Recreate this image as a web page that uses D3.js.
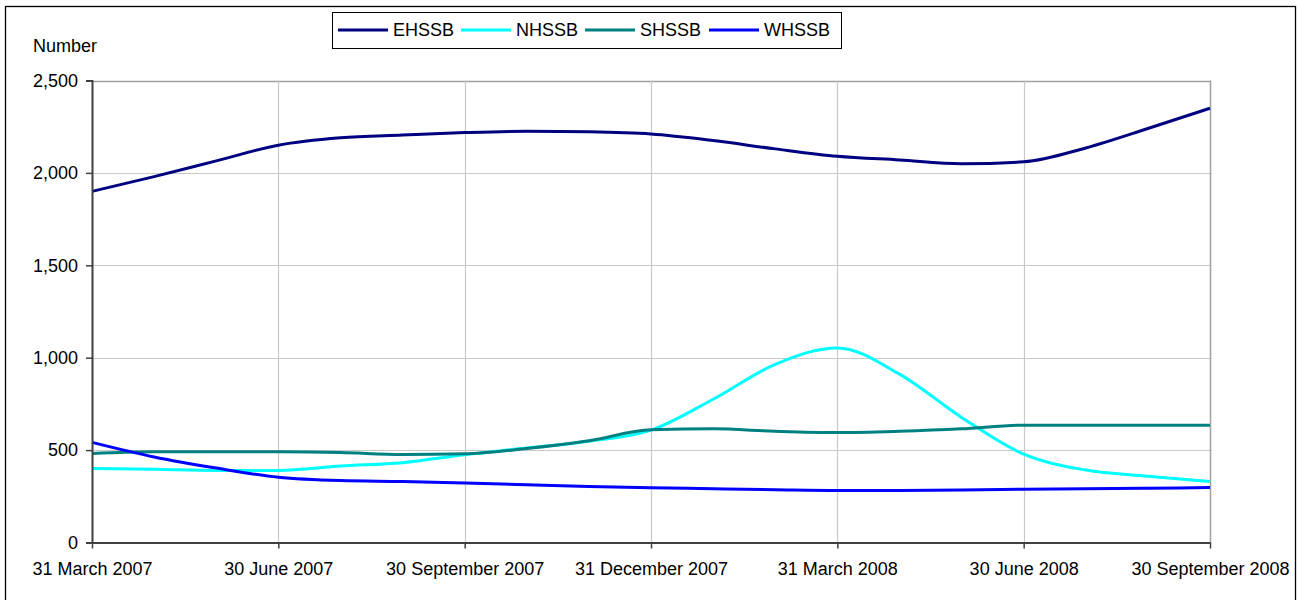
<!DOCTYPE html>
<html>
<head>
<meta charset="utf-8">
<script src="https://cdn.jsdelivr.net/npm/d3@7"></script>
<style>
  html, body { margin: 0; padding: 0; background: #fff; }
  svg { display: block; font-family: "Liberation Sans", Arial, sans-serif; }
</style>
</head>
<body>
<svg id="chart" width="1299" height="600"></svg>
<script>
// ---- data ----
const months = [
  "31 March 2007", "30 April 2007", "31 May 2007", "30 June 2007", "31 July 2007",
  "31 August 2007", "30 September 2007", "31 October 2007", "30 November 2007",
  "31 December 2007", "31 January 2008", "29 February 2008", "31 March 2008",
  "30 April 2008", "31 May 2008", "30 June 2008", "31 July 2008", "31 August 2008",
  "30 September 2008"
];
const tickLabels = [
  "31 March 2007", "30 June 2007", "30 September 2007", "31 December 2007",
  "31 March 2008", "30 June 2008", "30 September 2008"
];
const yTicks = [0, 500, 1000, 1500, 2000, 2500];
const seriesNames = ["EHSSB", "NHSSB", "SHSSB", "WHSSB"];
const seriesColors = ["#000080", "#00FFFF", "#008080", "#0000FF"];
const EHSSB = [1900, 1980, 2065, 2150, 2190, 2205, 2218, 2225, 2222, 2210, 2175, 2130, 2090, 2070, 2050, 2060, 2135, 2240, 2350];
const NHSSB = [401, 396, 390, 390, 414, 432, 475, 511, 548, 608, 775, 964, 1053, 911, 677, 478, 392, 359, 330];
const SHSSB = [482, 491, 491, 491, 487, 476, 480, 509, 551, 610, 615, 602, 595, 602, 615, 635, 635, 635, 635];
const WHSSB = [542, 463, 403, 353, 335, 330, 322, 312, 303, 296, 291, 286, 282, 282, 284, 288, 291, 294, 297];
const seriesValues = [EHSSB, NHSSB, SHSSB, WHSSB];

// ---- layout ----
const svg = d3.select("#chart");
const plotLeft = 92, plotRight = 1210, plotTop = 80.5, plotBottom = 542.5;
const FONT = 18;

const x = d3.scalePoint().domain(months).range([plotLeft, plotRight]);
const y = d3.scaleLinear().domain([0, 2500]).range([plotBottom, plotTop]);

// outer border
svg.append("rect")
  .attr("x", 5.5).attr("y", 6.5).attr("width", 1290).attr("height", 600)
  .attr("fill", "#fff").attr("stroke", "#000").attr("stroke-width", 1.3);

// horizontal gridlines
svg.append("g").selectAll("line")
  .data(yTicks.filter(d => d > 0))
  .join("line")
  .attr("x1", plotLeft).attr("x2", plotRight)
  .attr("y1", d => Math.round(y(d)) + 0.5).attr("y2", d => Math.round(y(d)) + 0.5)
  .attr("stroke", d => d === 2500 ? "#a0a0a0" : "#c8c8c8").attr("stroke-width", d => d === 2500 ? 1.5 : 1.2);

// vertical gridlines
svg.append("g").selectAll("line")
  .data(tickLabels.slice(1))
  .join("line")
  .attr("x1", d => Math.round(x(d)) + 0.5).attr("x2", d => Math.round(x(d)) + 0.5)
  .attr("y1", plotTop).attr("y2", plotBottom)
  .attr("stroke", d => d === tickLabels[tickLabels.length - 1] ? "#a0a0a0" : "#c8c8c8")
  .attr("stroke-width", d => d === tickLabels[tickLabels.length - 1] ? 1.5 : 1.2);

// series lines
const line = d3.line()
  .x((d, i) => x(months[i]))
  .y(d => y(d))
  .curve(d3.curveMonotoneX);

svg.append("g").selectAll("path")
  .data(seriesValues)
  .join("path")
  .attr("d", d => line(d))
  .attr("fill", "none")
  .attr("stroke", (d, i) => seriesColors[i])
  .attr("stroke-width", 3)
  .attr("stroke-linejoin", "round");

// y axis
const yAxis = d3.axisLeft(y).tickValues(yTicks).tickFormat(d3.format(",")).tickSize(6).tickPadding(8);
const gy = svg.append("g").attr("transform", `translate(${plotLeft},0)`).call(yAxis);
gy.select(".domain").attr("stroke", "#404040").attr("stroke-width", 2);
gy.selectAll(".tick line").attr("stroke", "#404040").attr("stroke-width", 1.5);
gy.selectAll(".tick text").attr("fill", "#000").style("font-size", FONT + "px").style("font-family", "'Liberation Sans', Arial, sans-serif");

// x axis
const xAxis = d3.axisBottom(x).tickValues(tickLabels).tickSize(6).tickPadding(14).tickSizeOuter(0);
const gx = svg.append("g").attr("transform", `translate(0,${plotBottom})`).call(xAxis);
gx.select(".domain").attr("stroke", "#404040").attr("stroke-width", 2);
gx.selectAll(".tick line").attr("stroke", "#404040").attr("stroke-width", 1.5);
gx.selectAll(".tick text").attr("fill", "#000").style("font-size", FONT + "px").style("font-family", "'Liberation Sans', Arial, sans-serif");

// y axis title
svg.append("text")
  .attr("x", 33).attr("y", 52)
  .style("font-size", FONT + "px")
  .text("Number");

// legend
const legend = svg.append("g");
legend.append("rect")
  .attr("x", 332.5).attr("y", 12.5).attr("width", 509).attr("height", 36)
  .attr("fill", "#fff").attr("stroke", "#000").attr("stroke-width", 1);
const legendX = [338, 461, 585, 709];
const items = legend.selectAll("g.item")
  .data(seriesNames)
  .join("g").attr("class", "item")
  .attr("transform", (d, i) => `translate(${legendX[i]},30)`);
items.append("line")
  .attr("x1", 0).attr("x2", 50).attr("y1", 0).attr("y2", 0)
  .attr("stroke", (d, i) => seriesColors[i]).attr("stroke-width", 3);
items.append("text")
  .attr("x", 55).attr("y", 0).attr("dy", "0.35em")
  .style("font-size", FONT + "px")
  .text(d => d);
</script>
</body>
</html>
